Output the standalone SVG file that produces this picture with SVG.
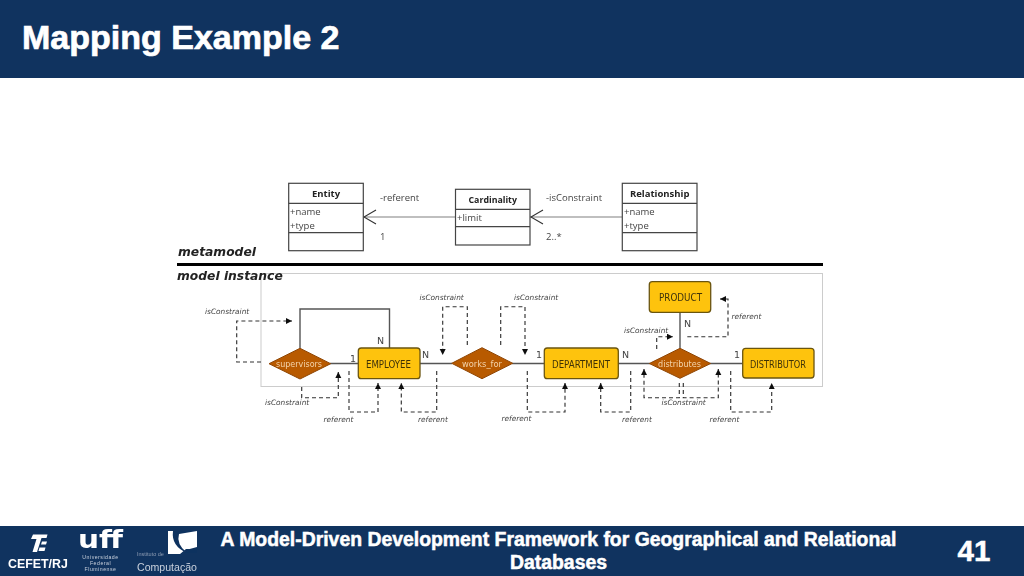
<svg xmlns="http://www.w3.org/2000/svg" width="1024" height="576" viewBox="0 0 1024 576">
<style>
text{font-family:"Liberation Sans",Arial,sans-serif}
.band{fill:#10335f}
.t{fill:#fff;font-weight:bold;stroke:#fff;stroke-width:.7}
.uml{fill:#fff;stroke:#444;stroke-width:1.2}
.div{stroke:#444;stroke-width:1.2;fill:none}
.ut{font-family:"Open Sans",sans-serif;font-size:9.5px;fill:#444}
.ub{font-family:"Open Sans",sans-serif;font-size:9.5px;font-weight:bold;fill:#222;text-anchor:middle}
.ent{fill:#fec311;stroke:#6b5510;stroke-width:1.3}
.dia{fill:#b85a04;stroke:#8f4604;stroke-width:1}
.et{font-family:"DejaVu Sans",sans-serif;font-size:10px;fill:#3f3306;text-anchor:middle}
.dt{font-family:"DejaVu Sans",sans-serif;font-size:9.2px;fill:#f3d3a8;text-anchor:middle}
.solid{fill:none;stroke:#555;stroke-width:1.4}
.dash{fill:none;stroke:#333;stroke-width:1.15;stroke-dasharray:4 3;marker-end:url(#ah)}
.lab{font-family:"DejaVu Sans",sans-serif;font-size:7.4px;font-style:italic;fill:#444}
.card{font-family:"DejaVu Sans",sans-serif;font-size:9.5px;fill:#444}
.big{font-family:"DejaVu Sans",sans-serif;font-size:12.3px;font-weight:bold;font-style:italic;fill:#222}
.f{fill:#fff}
.d{fill:#10335f}
</style>
<defs>
<marker id="ah" markerWidth="7" markerHeight="7" refX="6" refY="3" orient="auto" markerUnits="userSpaceOnUse"><path d="M0 0L6 3L0 6z" fill="#111"/></marker>
<filter id="soft" x="-2%" y="-2%" width="104%" height="104%"><feGaussianBlur stdDeviation="0.35"/></filter>
</defs>
<rect width="1024" height="576" fill="#fff"/>
<rect class="band" width="1024" height="78"/>
<rect class="band" y="526" width="1024" height="50"/>
<text id="title" class="t" x="22" y="49" font-size="34">Mapping Example 2</text>
<g filter="url(#soft)">
<rect x="261" y="273.500" width="561.500" height="113" fill="#fff" stroke="#ccc" stroke-width="1"/>
<line x1="177" y1="264.500" x2="823" y2="264.500" stroke="#000" stroke-width="3"/>
<text class="big" x="178" y="256">metamodel</text>
<text class="big" x="177" y="279.500">model instance</text>
<g id="connectors">
<path d="M363.500 217H455.500" fill="none" stroke="#aaa" stroke-width="1.5"/>
<path d="M376 210L364 217L376 224" fill="none" stroke="#333" stroke-width="1.1"/>
<path d="M530 217H622" fill="none" stroke="#aaa" stroke-width="1.5"/>
<path d="M543 210L531 217L543 224" fill="none" stroke="#333" stroke-width="1.1"/>
<path class="solid" d="M300 348V309H389.500V348"/>
<path class="solid" d="M330 363.500H358M420 363.500H452M512 363.500H544.500M618 363.500H650M710 363.500H743"/>
<path class="solid" d="M680 312.500V348"/>
<path class="dash" d="M261 362H236.700V321H292"/>
<path class="dash" d="M301.700 387V397.700H338.300V372"/>
<path class="dash" d="M349 371V412H378V383"/>
<path class="dash" d="M436.700 371V412H401.300V383"/>
<path class="dash" d="M467.300 345V306.700H442.700V355"/>
<path class="dash" d="M500.700 345V306.700H525V355"/>
<path class="dash" d="M527.300 371V412H565V383"/>
<path class="dash" d="M630.700 371V412H600.700V383"/>
<path class="dash" d="M730.700 371V412H771.700V383"/>
<path class="dash" d="M679.300 383V397.700H644V369"/>
<path class="dash" d="M683.300 383V397.700H718.300V369"/>
<path class="dash" d="M656.700 349V336.700H673"/>
<path class="dash" d="M687.300 336.700H728V299H720"/>
</g>
<g id="entity"><rect class="uml" x="288.700" y="183.300" width="74.600" height="67.400"/><path class="div" d="M288.700 203.300H363.300M288.700 232.700H363.300"/><text class="ub" x="326" y="197">Entity</text><text class="ut" x="290" y="215">+name</text><text class="ut" x="290" y="228.500">+type</text></g>
<g id="cardinality"><rect class="uml" x="455.500" y="189.300" width="74.500" height="55.700"/><path class="div" d="M455.500 209.300H530M455.500 226.700H530"/><text class="ub" x="492.700" y="203" style="font-size:8.800px">Cardinality</text><text class="ut" x="457" y="221">+limit</text></g>
<g id="relationship"><rect class="uml" x="622.300" y="183.300" width="74.700" height="67.400"/><path class="div" d="M622.300 203.300H697M622.300 232.700H697"/><text class="ub" x="659.700" y="197">Relationship</text><text class="ut" x="624" y="215">+name</text><text class="ut" x="624" y="228.500">+type</text></g>
<text class="ut" x="380" y="200.500">-referent</text><text class="ut" x="380" y="239.500">1</text>
<text class="ut" x="546" y="200.500">-isConstraint</text><text class="ut" x="546" y="239.500">2..*</text>
<g id="supervisors"><path class="dia" d="M300 348.300L330.700 363.700L300 379L269 363.700z"/><text class="dt" x="299" y="367" textLength="46" lengthAdjust="spacingAndGlyphs">supervisors</text></g>
<g id="employee"><rect class="ent" x="358.300" y="348" width="61.700" height="30.700" rx="3"/><text class="et" x="388.500" y="367.500" textLength="45" lengthAdjust="spacingAndGlyphs">EMPLOYEE</text></g>
<g id="works_for"><path class="dia" d="M482 347.700L512.700 363.300L482 378.700L451.700 363.300z"/><text class="dt" x="482" y="367" textLength="40" lengthAdjust="spacingAndGlyphs">works_for</text></g>
<g id="department"><rect class="ent" x="544.300" y="348" width="74" height="30.700" rx="3"/><text class="et" x="581" y="367.500" textLength="58" lengthAdjust="spacingAndGlyphs">DEPARTMENT</text></g>
<g id="distributes"><path class="dia" d="M680 348.300L710.700 363.500L680 378.300L649.300 363.500z"/><text class="dt" x="679.500" y="367" textLength="43" lengthAdjust="spacingAndGlyphs">distributes</text></g>
<g id="distributor"><rect class="ent" x="742.700" y="348.300" width="71.300" height="29.700" rx="3"/><text class="et" x="778" y="367.500" textLength="56" lengthAdjust="spacingAndGlyphs">DISTRIBUTOR</text></g>
<g id="product"><rect class="ent" x="649.300" y="281.700" width="61.400" height="30.600" rx="3"/><text class="et" x="680.500" y="301" textLength="43" lengthAdjust="spacingAndGlyphs">PRODUCT</text></g>
<text class="card" x="377" y="343.500">N</text><text class="card" x="350" y="361.500">1</text><text class="card" x="422" y="358">N</text>
<text class="card" x="536" y="358">1</text><text class="card" x="622" y="358">N</text><text class="card" x="734" y="358">1</text><text class="card" x="684" y="327">N</text>
<text class="lab" x="205" y="314">isConstraint</text>
<text class="lab" x="265" y="405">isConstraint</text>
<text class="lab" x="323.500" y="421.500">referent</text>
<text class="lab" x="418" y="421.500">referent</text>
<text class="lab" x="419.500" y="299.500">isConstraint</text>
<text class="lab" x="514" y="299.500">isConstraint</text>
<text class="lab" x="501.500" y="420.500">referent</text>
<text class="lab" x="622" y="421.500">referent</text>
<text class="lab" x="709.500" y="421.500">referent</text>
<text class="lab" x="624" y="332.500">isConstraint</text>
<text class="lab" x="661.500" y="405">isConstraint</text>
<text class="lab" x="731.500" y="318.500">referent</text>
</g>
<g id="footer-text">
<text class="t" x="558.500" y="546" font-size="19.400" text-anchor="middle" style="stroke-width:.5">A Model-Driven Development Framework for Geographical and Relational</text>
<text class="t" x="558.500" y="569" font-size="19.400" text-anchor="middle" style="stroke-width:.5">Databases</text>
<text class="t" x="974" y="561" font-size="29.500" text-anchor="middle" style="stroke-width:.5">41</text>
</g>
<g id="logos" filter="url(#soft)">
<text x="8" y="567.500" font-size="12.400" font-weight="bold" fill="#fff">CEFET/RJ</text>
<path class="f" d="M33 534.500H47.500L46.500 538H41.500L37 552H32.500L36.500 539H31z"/>
<path class="f" d="M42 541.500H47L46 544.500H41zM39.500 547.500H45.500L44.500 551H38.500z"/>
<text x="100.500" y="547.500" font-size="24" font-weight="bold" text-anchor="middle" fill="#fff" textLength="45" lengthAdjust="spacingAndGlyphs" style="font-family:'DejaVu Sans',sans-serif">uff</text>
<text x="100.500" y="559" font-size="5.200" text-anchor="middle" fill="#c8d0dc" letter-spacing=".5">Universidade</text>
<text x="100.500" y="565" font-size="5.200" text-anchor="middle" fill="#c8d0dc" letter-spacing=".5">Federal</text>
<text x="100.500" y="571" font-size="5.200" text-anchor="middle" fill="#c8d0dc" letter-spacing=".5">Fluminense</text>
<text x="137" y="556" font-size="5.500" fill="#8c9bb2">Instituto de</text>
<text x="137" y="571" font-size="11.500" fill="#c8d0dc" textLength="60" lengthAdjust="spacingAndGlyphs">Computação</text>
<path class="f" d="M168 531H197V549H186L180 554H168z"/>
<path class="d" d="M173 531Q171 546 187 553Q176 544 179 534L197 531z"/>
<path class="d" d="M186 550L197 547V553H188z"/>
</g>
</svg>
